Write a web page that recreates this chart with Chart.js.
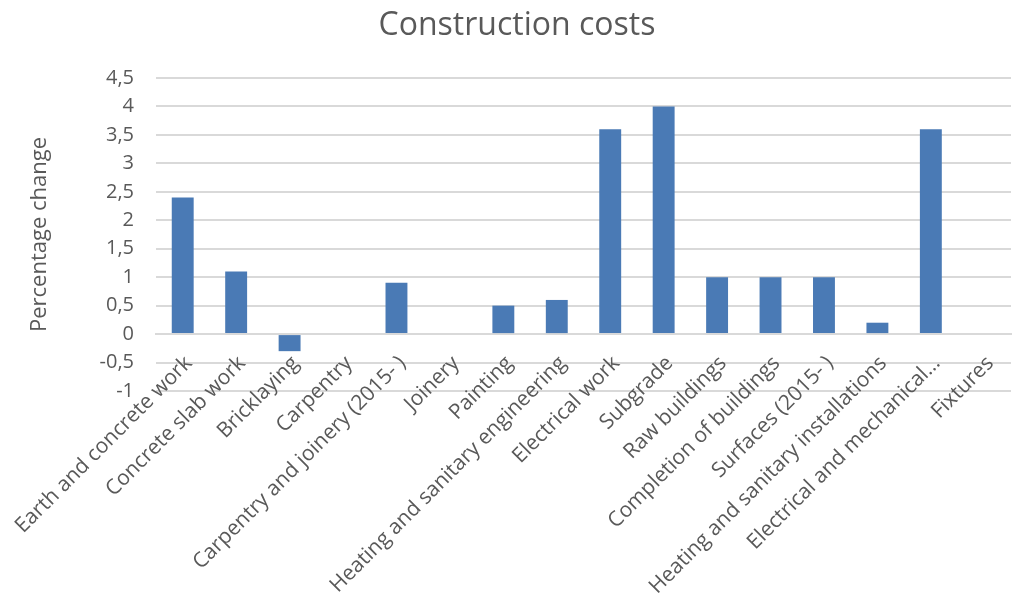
<!DOCTYPE html>
<html>
<head>
<meta charset="utf-8">
<title>Construction costs</title>
<script src="https://cdn.jsdelivr.net/npm/chart.js@4/dist/chart.umd.min.js"></script>
<style>
  html, body { margin: 0; padding: 0; background: #ffffff; }
  .chart-box { width: 1012px; height: 594px; position: relative; }
</style>
</head>
<body>
<div class="chart-box"><canvas id="costChart"></canvas></div>
<script>
// Categories and percentage changes
const categories = [
  'Earth and concrete work',
  'Concrete slab work',
  'Bricklaying',
  'Carpentry',
  'Carpentry and joinery (2015- )',
  'Joinery',
  'Painting',
  'Heating and sanitary engineering',
  'Electrical work',
  'Subgrade',
  'Raw buildings',
  'Completion of buildings',
  'Surfaces (2015- )',
  'Heating and sanitary installations',
  'Electrical and mechanical…',
  'Fixtures'
];
const changes = [2.4, 1.1, -0.3, 0, 0.9, 0, 0.5, 0.6, 3.6, 4.0, 1.0, 1.0, 1.0, 0.2, 3.6, 0];

// Value axis range
const yMin = -1;
const yMax = 4.5;
const yStep = 0.5;

const chartTitle = 'Construction costs';
const textColor = '#595959';
const gridColor = '#d9d9d9';
const fontFamily = '"Open Sans", sans-serif';

// comma as decimal separator
const formatTick = (v) => String(Math.round(v * 10) / 10).replace('.', ',');

// title sits a little right of the canvas centre, so draw it by hand
const titlePlugin = {
  id: 'offsetTitle',
  afterDraw(chart) {
    const ctx = chart.ctx;
    ctx.save();
    ctx.font = '32px ' + fontFamily;
    ctx.fillStyle = textColor;
    ctx.textAlign = 'center';
    ctx.textBaseline = 'alphabetic';
    ctx.fillText(chartTitle, 517, 35);
    ctx.restore();
  }
};

new Chart(document.getElementById('costChart'), {
  type: 'bar',
  data: {
    labels: categories,
    datasets: [{
      label: 'Percentage change',
      data: changes,
      backgroundColor: '#4a7ab5',
      borderWidth: 0,
      barPercentage: 1,
      categoryPercentage: 0.41
    }]
  },
  options: {
    responsive: true,
    maintainAspectRatio: false,
    animation: false,
    layout: {
      padding: { left: 0, right: 1, top: 78, bottom: 203 }
    },
    plugins: {
      legend: { display: false },
      tooltip: { enabled: false },
      title: { display: false }
    },
    scales: {
      x: {
        position: { y: 0 },
        grid: { display: false, drawTicks: false },
        border: { display: true, color: gridColor, width: 2 },
        ticks: {
          color: textColor,
          font: { family: fontFamily, size: 21 },
          minRotation: 45,
          maxRotation: 45,
          autoSkip: false,
          padding: 17,
          labelOffset: 6
        },
        // rotated labels may hang outside the plot, don't shrink it for them
        afterFit: (scale) => { scale.paddingLeft = 0; scale.paddingRight = 0; }
      },
      y: {
        min: yMin,
        max: yMax,
        grid: { color: gridColor, lineWidth: 2, drawTicks: false },
        border: { display: false },
        ticks: {
          stepSize: yStep,
          color: textColor,
          font: { family: fontFamily, size: 20 },
          padding: 22,
          callback: formatTick
        },
        title: {
          display: true,
          text: 'Percentage change',
          color: textColor,
          font: { family: fontFamily, size: 22 },
          padding: { top: 27, bottom: 0 }
        },
        afterFit: (scale) => { scale.width = 156; }
      }
    }
  },
  plugins: [titlePlugin]
});
</script>
</body>
</html>
